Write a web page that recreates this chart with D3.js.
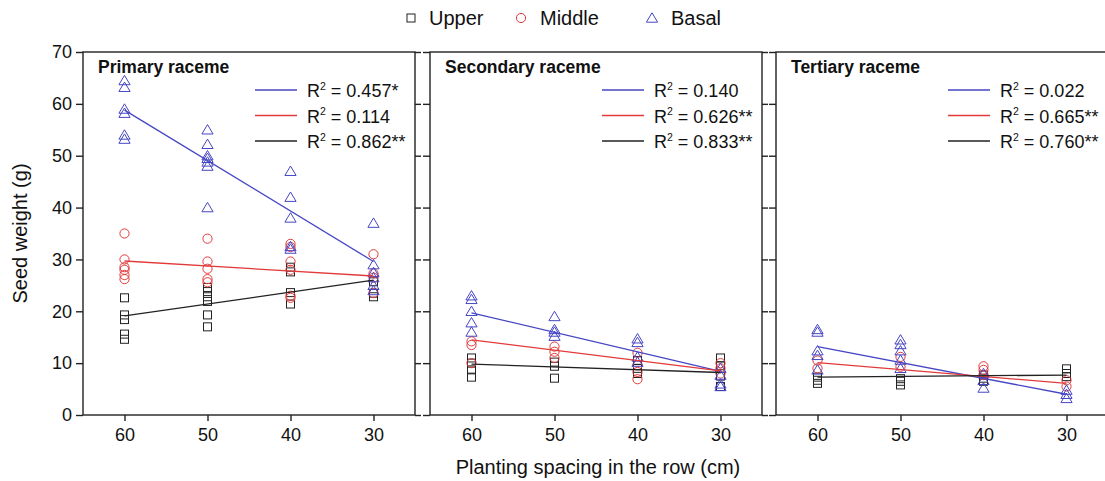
<!DOCTYPE html>
<html>
<head>
<meta charset="utf-8">
<script src="https://cdn.jsdelivr.net/npm/d3@7"></script>
<style>
  body { margin: 0; background: #fff; }
  svg { font-family: "Liberation Sans", Arial, sans-serif; }
</style>
</head>
<body>
<div id="chart"></div>
<script>
const spacings = [60, 50, 40, 30];
const yTicks = [0, 10, 20, 30, 40, 50, 60, 70];
const panelTitles = ["Primary raceme", "Secondary raceme", "Tertiary raceme"];
const seriesNames = ["Upper", "Middle", "Basal"];

// seed weights per spacing (60, 50, 40, 30 cm)
const primaryUpper = [[22.6, 19.3, 18.4, 15.6, 14.6], [24.6, 23.8, 22.8, 21.9, 19.3, 17], [28.5, 27.6, 23.6, 21.4], [25.7, 23.5, 22.8]];
const primaryMiddle = [[35, 30, 28.5, 28, 27, 26.2], [34, 29.6, 28.2, 26.2, 25.6], [33, 32.4, 29.6, 28, 23, 22.6], [31, 27.3, 26.5, 23.5]];
const primaryBasal = [[64.5, 63.2, 59, 58.2, 54, 53.2], [55, 52.2, 50, 49.5, 48.8, 48, 40], [47, 42, 38, 32.5, 32], [37, 29, 27.5, 26.5, 25, 24]];

const secondaryUpper = [[11, 10, 8.7, 7.3], [10.2, 9.4, 7.1], [10.5, 9, 8], [11, 9.5, 7.5, 5.5]];
const secondaryMiddle = [[14.2, 13.5, 10], [13.2, 12.2, 11], [12, 9.6, 8.3, 6.9], [10, 9, 8]];
const secondaryBasal = [[23, 22.3, 20, 17.8, 16], [19, 16.5, 16, 15.2], [14.7, 14, 11.2, 10.2], [9, 7.7, 6, 5.5]];

const tertiaryUpper = [[7.3, 6.7, 6.1], [7, 6.5, 5.8], [7.7, 7.1, 6.5], [8.9, 8, 7.4]];
const tertiaryMiddle = [[10.5, 9], [11.2, 9.3], [9.4, 8.7, 7.7], [6.7, 5.5]];
const tertiaryBasal = [[16.5, 16, 12.4, 11.5, 8.7], [14.5, 13.6, 12.4, 10.6, 9], [8, 6.7, 5.2], [4.8, 4, 3.2]];

// fitted lines: value at 60 cm and at 30 cm, order Basal, Middle, Upper
const primaryFit = [[58.8, 29.6], [29.7, 26.8], [19.1, 26.0]];
const secondaryFit = [[19.7, 8.4], [14.5, 8.5], [9.8, 8.2]];
const tertiaryFit = [[13.2, 4.0], [10.1, 6.1], [7.3, 7.7]];

const primaryR2 = ["0.457*", "0.114", "0.862**"];
const secondaryR2 = ["0.140", "0.626**", "0.833**"];
const tertiaryR2 = ["0.022", "0.665**", "0.760**"];

const panels = [
  { title: panelTitles[0], series: [primaryUpper, primaryMiddle, primaryBasal], fit: primaryFit, r2: primaryR2 },
  { title: panelTitles[1], series: [secondaryUpper, secondaryMiddle, secondaryBasal], fit: secondaryFit, r2: secondaryR2 },
  { title: panelTitles[2], series: [tertiaryUpper, tertiaryMiddle, tertiaryBasal], fit: tertiaryFit, r2: tertiaryR2 }
];

const colors = ["#222222", "#e23a3a", "#4646c4"]; // Upper, Middle, Basal
const fitColors = ["#4646c4", "#e23a3a", "#222222"];

const width = 1105, height = 481;
const plotTop = 52, plotBottom = 415;
const panelLefts = [83, 430, 776];
const panelW = 332;

const svg = d3.select("#chart").append("svg")
  .attr("width", width)
  .attr("height", height);

const y = d3.scaleLinear().domain([0, 70]).range([plotBottom, plotTop]);

function marker(sel, type, color) {
  if (type === 0) {
    sel.append("rect").attr("x", -4).attr("y", -4).attr("width", 8).attr("height", 8)
      .attr("fill", "none").attr("stroke", color).attr("stroke-width", 1);
  } else if (type === 1) {
    sel.append("circle").attr("r", 4.6)
      .attr("fill", "none").attr("stroke", color).attr("stroke-width", 1);
  } else {
    sel.append("path").attr("d", "M0,-5.2L5.6,4.2L-5.6,4.2Z")
      .attr("fill", "none").attr("stroke", color).attr("stroke-width", 1);
  }
}

panels.forEach((p, pi) => {
  const left = panelLefts[pi];
  const x = d3.scaleLinear().domain([65, 25]).range([left, left + panelW]);
  const g = svg.append("g");

  // frame
  g.append("rect")
    .attr("x", left).attr("y", plotTop)
    .attr("width", panelW).attr("height", plotBottom - plotTop)
    .attr("fill", "none").attr("stroke", "#222").attr("stroke-width", 1.4);

  // x axis
  const xa = g.append("g").attr("transform", `translate(0,${plotBottom})`)
    .call(d3.axisBottom(x).tickValues(spacings).tickSize(6).tickPadding(7).tickFormat(d3.format("d")));
  xa.select(".domain").remove();
  xa.selectAll("line").attr("stroke", "#222").attr("stroke-width", 1.4);
  xa.selectAll("text").attr("font-size", 18).attr("fill", "#111")
    .attr("font-family", "Liberation Sans, Arial, sans-serif");

  // y axes left and right
  const ya = g.append("g").attr("transform", `translate(${left},0)`)
    .call(d3.axisLeft(y).tickValues(yTicks).tickSize(7).tickPadding(4)
      .tickFormat(pi === 0 ? d3.format("d") : () => ""));
  ya.select(".domain").remove();
  ya.selectAll("line").attr("stroke", "#222").attr("stroke-width", 1.4);
  ya.selectAll("text").attr("font-size", 18).attr("fill", "#111")
    .attr("font-family", "Liberation Sans, Arial, sans-serif");

  const yr = g.append("g").attr("transform", `translate(${left + panelW},0)`)
    .call(d3.axisRight(y).tickValues(yTicks).tickSize(6).tickFormat(() => ""));
  yr.select(".domain").remove();
  yr.selectAll("line").attr("stroke", "#222").attr("stroke-width", 1.4);

  // clip region
  const clipId = "clip" + pi;
  svg.append("clipPath").attr("id", clipId).append("rect")
    .attr("x", left).attr("y", plotTop).attr("width", panelW).attr("height", plotBottom - plotTop);

  // points
  const pts = g.append("g").attr("clip-path", `url(#${clipId})`);
  p.series.forEach((ser, si) => {
    ser.forEach((vals, k) => {
      vals.forEach(v => {
        const m = pts.append("g").attr("transform", `translate(${x(spacings[k])},${y(v)})`);
        marker(m, si, colors[si]);
      });
    });
  });

  // fit lines
  p.fit.forEach((f, fi) => {
    pts.append("line")
      .attr("x1", x(60)).attr("y1", y(f[0]))
      .attr("x2", x(30)).attr("y2", y(f[1]))
      .attr("stroke", fitColors[fi]).attr("stroke-width", 1.3);
  });

  // title
  g.append("text")
    .attr("x", left + 15).attr("y", plotTop + 21)
    .attr("font-size", 17.5).attr("font-weight", "bold").attr("fill", "#111")
    .text(p.title);

  // legend inside panel
  const right = left + panelW;
  p.r2.forEach((r, ri) => {
    const ly = 90 + ri * 25.5;
    g.append("line")
      .attr("x1", right - 160).attr("x2", right - 118)
      .attr("y1", ly).attr("y2", ly)
      .attr("stroke", fitColors[ri]).attr("stroke-width", 1.3);
    const t = g.append("text")
      .attr("x", right - 108).attr("y", ly + 7)
      .attr("font-size", 18).attr("fill", "#111");
    t.append("tspan").text("R");
    t.append("tspan").attr("dy", -7.5).attr("font-size", 10.5).text("2");
    t.append("tspan").attr("dy", 7.5).text(" = " + r);
  });
});

// top legend
const legendItems = [
  { name: seriesNames[0], mx: 411, tx: 429 },
  { name: seriesNames[1], mx: 521, tx: 540 },
  { name: seriesNames[2], mx: 652, tx: 671 }
];
legendItems.forEach((it, i) => {
  const m = svg.append("g").attr("transform", `translate(${it.mx},18)`);
  marker(m, i, colors[i]);
  svg.append("text").attr("x", it.tx).attr("y", 25)
    .attr("font-size", 20).attr("fill", "#111").text(it.name);
});

// axis titles
svg.append("text")
  .attr("transform", `translate(27,${(plotTop + plotBottom) / 2}) rotate(-90)`)
  .attr("text-anchor", "middle").attr("font-size", 20).attr("fill", "#111")
  .text("Seed weight (g)");

svg.append("text")
  .attr("x", 598).attr("y", 474)
  .attr("text-anchor", "middle").attr("font-size", 20).attr("fill", "#111")
  .text("Planting spacing in the row (cm)");
</script>
</body>
</html>
